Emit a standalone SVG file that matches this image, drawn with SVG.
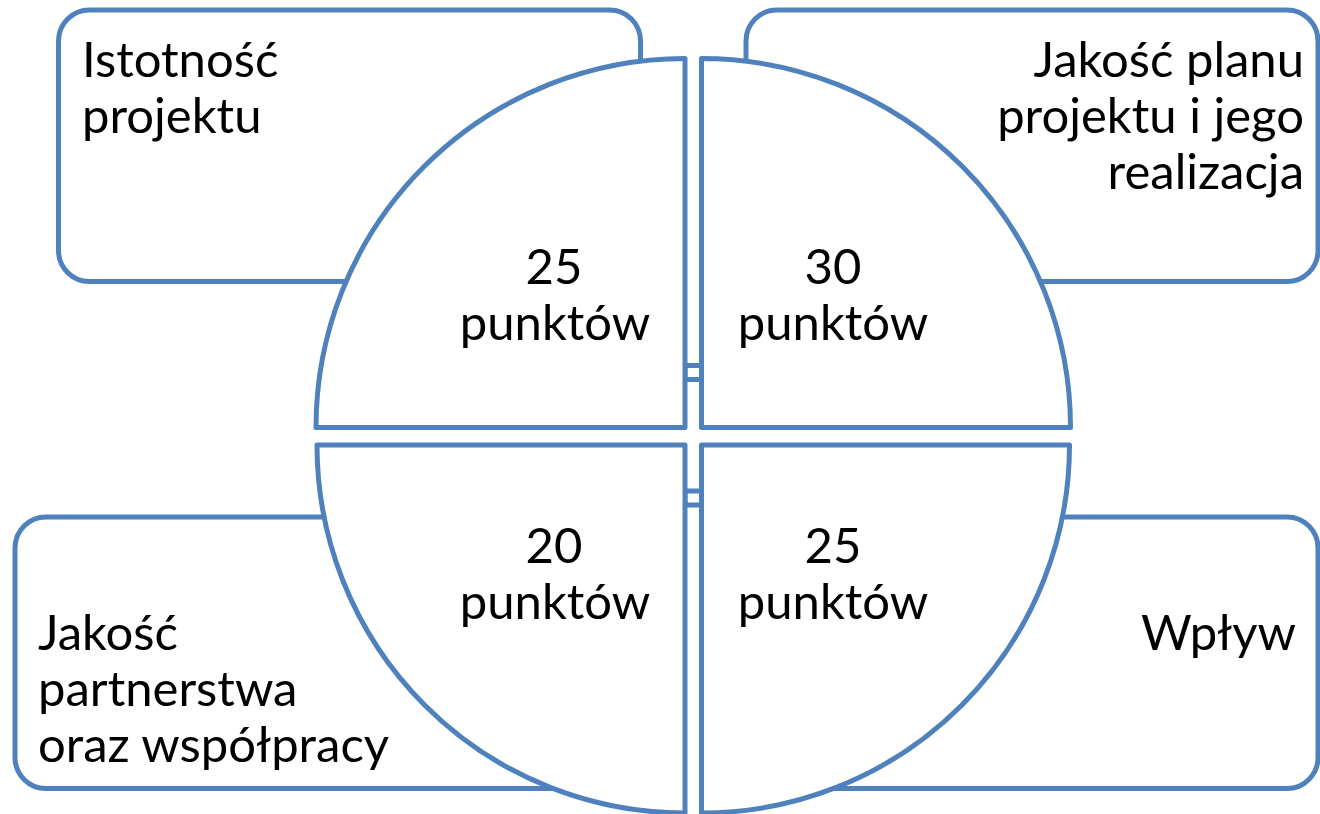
<svg xmlns="http://www.w3.org/2000/svg" width="1320" height="814" viewBox="0 0 1320 814">
<style>
.box{fill:#fff;stroke:#4F81BD;stroke-width:5}
.q{fill:#fff;stroke:#4F81BD;stroke-width:5;stroke-linejoin:round}
.br{fill:#fff;stroke:#4F81BD;stroke-width:5}
text{font-family:Lato,"Liberation Sans",sans-serif;font-size:49px;fill:#000}
.m{text-anchor:middle}
.e{text-anchor:end}
</style>
<rect width="1320" height="814" fill="#fff"/>
<g id="box-tl"><rect class="box" x="58.5" y="10" width="582" height="271.5" rx="31"/>
<text x="82" y="77">Istotność</text><text x="82" y="133">projektu</text></g>
<g id="box-tr"><rect class="box" x="746" y="10" width="572" height="271.5" rx="31"/>
<text class="e" x="1304" y="77">Jakość planu</text><text class="e" x="1304" y="133">projektu i jego</text><text class="e" x="1304" y="189">realizacja</text></g>
<g id="box-bl"><rect class="box" x="15" y="517" width="582" height="271.5" rx="31"/>
<text x="38" y="650">Jakość</text><text x="38" y="706">partnerstwa</text><text x="38" y="762">oraz współpracy</text></g>
<g id="box-br"><rect class="box" x="736" y="517" width="582" height="271.5" rx="31"/>
<text class="e" x="1296" y="650">Wpływ</text></g>
<g id="connectors">
<rect class="br" x="685" y="365.5" width="16.5" height="14"/>
<rect class="br" x="685" y="491" width="16.5" height="14"/>
</g>
<g id="q-tl"><path class="q" d="M685 427.5 L316 427.5 A369 369 0 0 1 685 58.5 Z"/>
<text class="m" x="554" y="284">25</text><text class="m" x="555" y="340">punktów</text></g>
<g id="q-tr"><path class="q" d="M701.5 427.5 L701.5 58.5 A369 369 0 0 1 1070.5 427.5 Z"/>
<text class="m" x="833" y="284">30</text><text class="m" x="833" y="340">punktów</text></g>
<g id="q-bl"><path class="q" d="M685 445 L685 813 A368 368 0 0 1 317 445 Z"/>
<text class="m" x="554" y="563">20</text><text class="m" x="555" y="619">punktów</text></g>
<g id="q-br"><path class="q" d="M701.5 445 L1069.5 445 A368 368 0 0 1 701.5 813 Z"/>
<text class="m" x="833" y="563">25</text><text class="m" x="833" y="619">punktów</text></g>
</svg>
